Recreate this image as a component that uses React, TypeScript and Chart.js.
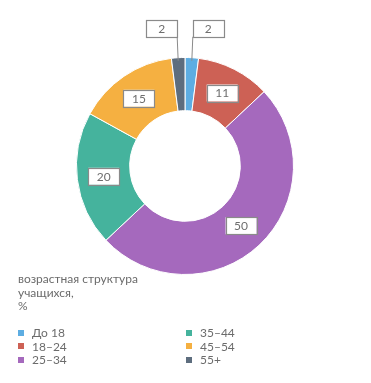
import React, { useEffect, useRef } from "react";
import { Chart, registerables } from "chart.js";

Chart.register(...registerables);

const categories = ["До 18", "18–24", "25–34", "35–44", "45–54", "55+"];
const values = [2, 11, 50, 20, 15, 2];
const colors = ["#5DADE2", "#CD6155", "#A569BD", "#45B39D", "#F5B041", "#5D6D7E"];
const titleLines = ["возрастная структура", "учащихся,", "%"];
const legendColumns = [[0, 1, 2], [3, 4, 5]];

const FONT = "Lato, 'Open Sans', 'DejaVu Sans', sans-serif";

const labelPlugin = {
  id: "boxLabels",
  afterDatasetsDraw(chart: any) {
    const ctx = chart.ctx;
    const meta = chart.getDatasetMeta(0);
    ctx.save();
    ctx.font = `12px ${FONT}`;
    ctx.textAlign = "center";
    ctx.textBaseline = "middle";
    const bw = 31;
    const bh = 17;
    meta.data.forEach((arc: any, i: number) => {
      const v = values[i];
      const p = arc.getProps(["x", "y", "startAngle", "endAngle", "innerRadius", "outerRadius"], true);
      const mid = (p.startAngle + p.endAngle) / 2;
      let cx: number, cy: number;
      if (v <= 3) {
        const ox = p.x + Math.cos(mid) * p.outerRadius;
        const oy = p.y + Math.sin(mid) * p.outerRadius;
        const right = Math.cos(mid) >= 0;
        const boxBottom = oy - 21;
        const lineTopX = right ? ox + 1 : ox - 1;
        cx = right ? lineTopX + bw / 2 : lineTopX - bw / 2;
        cy = boxBottom - bh / 2;
        ctx.strokeStyle = "#8a8a8a";
        ctx.lineWidth = 1;
        ctx.beginPath();
        ctx.moveTo(lineTopX, boxBottom);
        ctx.lineTo(ox, oy + 3);
        ctx.stroke();
      } else {
        const r = (p.innerRadius + p.outerRadius) / 2;
        cx = p.x + Math.cos(mid) * r;
        cy = p.y + Math.sin(mid) * r;
      }
      ctx.fillStyle = "#ffffff";
      ctx.fillRect(cx - bw / 2, cy - bh / 2, bw, bh);
      ctx.strokeStyle = "#8a8a8a";
      ctx.lineWidth = 1.2;
      ctx.strokeRect(Math.round(cx - bw / 2) + 0.5, Math.round(cy - bh / 2) + 0.5, bw, bh);
      ctx.fillStyle = "#6e6e6e";
      ctx.fillText(String(v), cx, cy + 0.5);
    });
    ctx.restore();
  },
};

export default function App() {
  const ref = useRef<HTMLCanvasElement | null>(null);
  useEffect(() => {
    document.body.style.margin = "0";
    const chart = new Chart(ref.current as HTMLCanvasElement, {
      type: "doughnut",
      data: {
        labels: categories,
        datasets: [
          {
            data: values,
            backgroundColor: colors,
            borderColor: "#ffffff",
            borderWidth: 1,
          },
        ],
      },
      options: {
        animation: false,
        responsive: false,
        cutout: "51%",
        layout: { padding: { top: 56, bottom: 107, left: 76, right: 77 } },
        plugins: {
          legend: { display: false },
          tooltip: { enabled: false },
        },
      },
      plugins: [labelPlugin],
    });
    return () => chart.destroy();
  }, []);

  return (
    <div style={{ position: "relative", width: 371, height: 383, background: "#fff", fontFamily: FONT, color: "#6b6b6b" }}>
      <canvas ref={ref} width={371} height={383} style={{ position: "absolute", left: 0, top: 0 }} />
      <div style={{ position: "absolute", left: 18, top: 272, fontSize: 12, lineHeight: "13.5px" }}>
        {titleLines.map((t, i) => (
          <div key={i}>{t}</div>
        ))}
      </div>
      {legendColumns.map((col, ci) => (
        <div key={ci} style={{ position: "absolute", left: ci === 0 ? 18 : 186, top: 326, fontSize: 12, lineHeight: "13.5px" }}>
          {col.map((idx) => (
            <div key={idx} style={{ display: "flex", alignItems: "center", height: 13.5 }}>
              <span style={{ display: "inline-block", width: 6, height: 6, background: colors[idx], marginRight: 8 }} />
              <span>{categories[idx]}</span>
            </div>
          ))}
        </div>
      ))}
    </div>
  );
}
